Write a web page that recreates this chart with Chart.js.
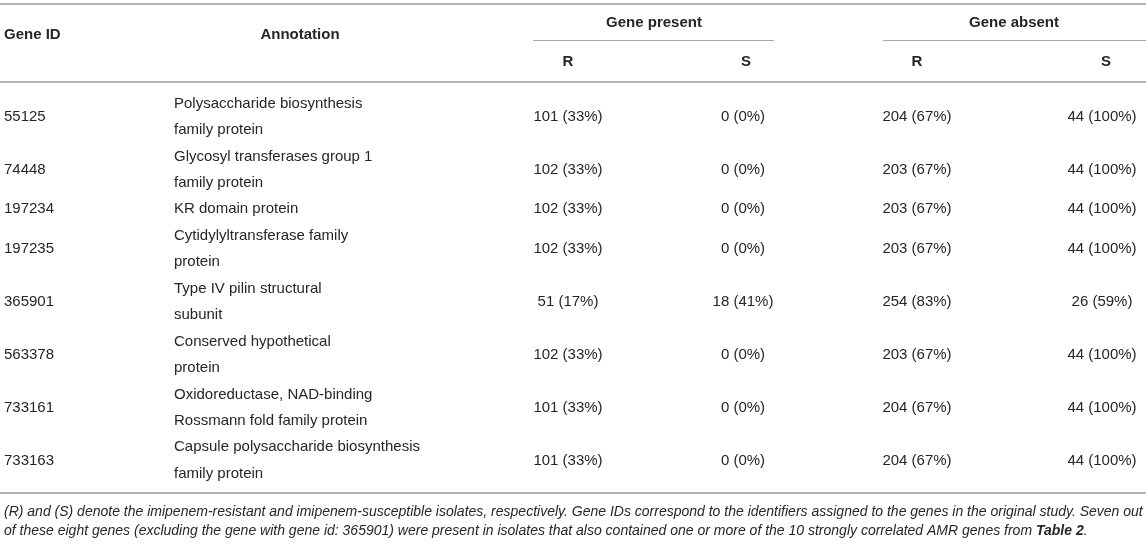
<!DOCTYPE html>
<html>
<head>
<meta charset="utf-8">
<script src="https://cdn.jsdelivr.net/npm/chart.js@4.4.1/dist/chart.umd.min.js"></script>
<style>
  html, body { margin: 0; padding: 0; background: #fff; }
  #wrap { width: 1146px; height: 544px; position: relative; }
</style>
</head>
<body>
<div id="wrap"><canvas id="tableChart"></canvas></div>
<script>
// --- Dữ liệu bảng ---
const geneIds = ['55125', '74448', '197234', '197235', '365901', '563378', '733161', '733163'];
const annotations = [
  ['Polysaccharide biosynthesis', 'family protein'],
  ['Glycosyl transferases group 1', 'family protein'],
  ['KR domain protein'],
  ['Cytidylyltransferase family', 'protein'],
  ['Type IV pilin structural', 'subunit'],
  ['Conserved hypothetical', 'protein'],
  ['Oxidoreductase, NAD-binding', 'Rossmann fold family protein'],
  ['Capsule polysaccharide biosynthesis', 'family protein']
];
const presentR = [101, 102, 102, 102, 51, 102, 101, 101];
const presentRPct = [33, 33, 33, 33, 17, 33, 33, 33];
const presentS = [0, 0, 0, 0, 18, 0, 0, 0];
const presentSPct = [0, 0, 0, 0, 41, 0, 0, 0];
const absentR = [204, 203, 203, 203, 254, 203, 204, 204];
const absentRPct = [67, 67, 67, 67, 83, 67, 67, 67];
const absentS = [44, 44, 44, 44, 26, 44, 44, 44];
const absentSPct = [100, 100, 100, 100, 59, 100, 100, 100];

const colHeaders = ['Gene ID', 'Annotation', 'R', 'S', 'R', 'S'];
const groupHeaders = ['Gene present', 'Gene absent'];
const footnoteLine1 = '(R) and (S) denote the imipenem-resistant and imipenem-susceptible isolates, respectively. Gene IDs correspond to the identifiers assigned to the genes in the original study. Seven out';
const footnoteLine2 = 'of these eight genes (excluding the gene with gene id: 365901) were present in isolates that also contained one or more of the 10 strongly correlated AMR genes from ';
const footnoteBold = 'Table 2';

// --- Bố cục (đơn vị pixel của trục) ---
const layout = {
  colX: [4, 174, 568, 743, 917, 1102],      // vị trí cột dữ liệu
  headX: [4, 300, 568, 746, 917, 1106],     // vị trí tiêu đề cột
  groupX: [654, 1014],
  groupLine: [[533, 774], [883, 1146]],
  topRule: 4, groupY: 23, headY: 35, groupLineY: 40, subHeadY: 62,
  headRule: 82, firstLine: 103.5, lineH: 26.45,
  bottomRule: 493, foot1: 512, foot2: 531
};

const FONT = '"Liberation Sans", Arial, Helvetica, sans-serif';
const TEXT = '#262626';

const fmt = (n, p) => `${n} (${p}%)`;

// vị trí dòng cho từng hàng
const rowCenters = [];
const annLines = [];
let lineIdx = 0;
annotations.forEach((lines) => {
  rowCenters.push(layout.firstLine + layout.lineH * (lineIdx + (lines.length - 1) / 2));
  lines.forEach((t, k) => annLines.push({ x: layout.colX[1], y: layout.firstLine + layout.lineH * (lineIdx + k), t: t }));
  lineIdx += lines.length;
});

function colDataset(label, col, texts, align) {
  return {
    label: label,
    data: texts.map((t, i) => ({ x: layout.colX[col], y: rowCenters[i], t: t })),
    align: align,
    pointRadius: 0
  };
}

const datasets = [
  colDataset('Gene ID', 0, geneIds, 'left'),
  { label: 'Annotation', data: annLines, align: 'left', pointRadius: 0 },
  colDataset('Present R', 2, presentR.map((v, i) => fmt(v, presentRPct[i])), 'center'),
  colDataset('Present S', 3, presentS.map((v, i) => fmt(v, presentSPct[i])), 'center'),
  colDataset('Absent R', 4, absentR.map((v, i) => fmt(v, absentRPct[i])), 'center'),
  colDataset('Absent S', 5, absentS.map((v, i) => fmt(v, absentSPct[i])), 'center')
];

// --- Plugin vẽ chữ và đường kẻ ---
const tablePlugin = {
  id: 'tablePlugin',
  afterDatasetsDraw(chart) {
    const ctx = chart.ctx;
    const sx = chart.scales.x, sy = chart.scales.y;
    const X = (v) => sx.getPixelForValue(v);
    const Y = (v) => sy.getPixelForValue(v);

    ctx.save();
    // đường kẻ ngang chính
    ctx.strokeStyle = '#b4b4b4';
    ctx.lineWidth = 2;
    [layout.topRule, layout.headRule, layout.bottomRule].forEach((r) => {
      ctx.beginPath();
      ctx.moveTo(X(0), Y(r));
      ctx.lineTo(X(1146), Y(r));
      ctx.stroke();
    });
    // gạch dưới nhóm
    ctx.strokeStyle = '#a8a8a8';
    ctx.lineWidth = 1;
    layout.groupLine.forEach(([a, b]) => {
      ctx.beginPath();
      ctx.moveTo(X(a), Y(layout.groupLineY) + 0.5);
      ctx.lineTo(X(b), Y(layout.groupLineY) + 0.5);
      ctx.stroke();
    });

    ctx.fillStyle = TEXT;
    ctx.textBaseline = 'middle';

    // tiêu đề
    ctx.font = 'bold 15px ' + FONT;
    ctx.textAlign = 'left';
    ctx.fillText(colHeaders[0], X(layout.headX[0]), Y(layout.headY));
    ctx.textAlign = 'center';
    ctx.fillText(colHeaders[1], X(layout.headX[1]), Y(layout.headY));
    groupHeaders.forEach((g, i) => ctx.fillText(g, X(layout.groupX[i]), Y(layout.groupY)));
    for (let c = 2; c < colHeaders.length; c++) {
      ctx.fillText(colHeaders[c], X(layout.headX[c]), Y(layout.subHeadY));
    }

    // ô dữ liệu
    ctx.font = '15px ' + FONT;
    chart.data.datasets.forEach((ds, di) => {
      const meta = chart.getDatasetMeta(di);
      ctx.textAlign = ds.align;
      meta.data.forEach((pt, i) => ctx.fillText(ds.data[i].t, pt.x, pt.y));
    });

    // chú thích
    ctx.textAlign = 'left';
    ctx.font = 'italic 14px ' + FONT;
    ctx.fillText(footnoteLine1, X(4), Y(layout.foot1));
    ctx.fillText(footnoteLine2, X(4), Y(layout.foot2));
    const w = ctx.measureText(footnoteLine2).width;
    ctx.font = 'italic bold 14px ' + FONT;
    ctx.fillText(footnoteBold, X(4) + w, Y(layout.foot2));
    const wb = ctx.measureText(footnoteBold).width;
    ctx.font = 'italic 14px ' + FONT;
    ctx.fillText('.', X(4) + w + wb, Y(layout.foot2));
    ctx.restore();
  }
};

new Chart(document.getElementById('tableChart'), {
  type: 'scatter',
  data: { datasets: datasets },
  options: {
    responsive: true,
    maintainAspectRatio: false,
    animation: false,
    layout: { padding: 0 },
    plugins: { legend: { display: false }, tooltip: { enabled: false } },
    scales: {
      x: { type: 'linear', min: 0, max: 1146, display: false },
      y: { type: 'linear', min: 0, max: 544, reverse: true, display: false }
    }
  },
  plugins: [tablePlugin]
});
</script>
</body>
</html>
